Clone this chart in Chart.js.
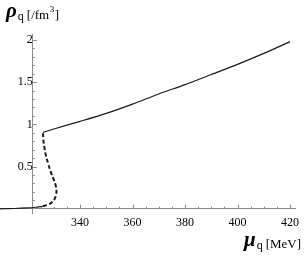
<!DOCTYPE html>
<html>
<head>
<meta charset="utf-8">
<script src="https://cdn.jsdelivr.net/npm/chart.js@4"></script>
<style>
  html, body { margin: 0; padding: 0; background: #fff; }
  #wrap { width: 307px; height: 256px; }
</style>
</head>
<body>
<div id="wrap"><canvas id="densityChart"></canvas></div>
<script>
// quark number density vs quark chemical potential

// stable high density branch
const muUpper = [325.9, 330, 340, 350, 360, 370, 380, 390, 400, 410, 420];
const rhoUpper = [0.905, 0.945, 1.035, 1.13, 1.24, 1.36, 1.47, 1.59, 1.71, 1.84, 1.98];

// stable low density branch
const muLower = [309.5, 315, 320, 323, 325.9];
const rhoLower = [0.0, 0.003, 0.01, 0.018, 0.03];

// metastable / unstable branch (dashed)
const muUnstable = [325.9, 327.5, 329, 330.2, 330.9, 331, 330.6, 329.8, 328.8, 327.8, 327, 326.4, 326, 325.9];
const rhoUnstable = [0.03, 0.045, 0.07, 0.11, 0.17, 0.22, 0.29, 0.36, 0.44, 0.54, 0.63, 0.73, 0.82, 0.905];

const xTickLabels = [340, 360, 380, 400, 420];
const yTickLabels = [0.5, 1, 1.5, 2];

const toPoints = (xs, ys) => xs.map((x, i) => ({x: x, y: ys[i]}));

const serif = '"Liberation Serif", "DejaVu Serif", serif';
const axisColor = '#8a8a8a';
const lineColor = '#1a1a1a';

// draws a run of text pieces one after the other
const drawRun = (ctx, x, parts) => {
    let cx = x;
    parts.forEach(p => {
        ctx.font = p.font;
        ctx.fillText(p.text, cx + (p.dx || 0), p.y);
        cx += ctx.measureText(p.text).width + (p.dx || 0) + (p.gap || 0);
    });
    return cx;
};

// Mathematica style inner ticks plus the axis labels
const axisDecor = {
    id: 'axisDecor',
    afterDraw(chart) {
        const ctx = chart.ctx;
        const xs = chart.scales.x;
        const ys = chart.scales.y;
        const x0 = xs.getPixelForValue(322);
        const y0 = ys.getPixelForValue(0);
        ctx.save();
        ctx.strokeStyle = axisColor;
        ctx.lineWidth = 1;
        ctx.beginPath();
        // y ticks, every 0.1
        for (let i = 1; i <= 20; i++) {
            const v = i / 10;
            const py = Math.round(ys.getPixelForValue(v)) + 0.5;
            const len = (i % 5 === 0) ? 4 : 2;
            ctx.moveTo(x0, py);
            ctx.lineTo(x0 + len, py);
        }
        // x ticks, every 5
        for (let v = 325; v <= 420; v += 5) {
            const px = Math.round(xs.getPixelForValue(v)) + 0.5;
            const len = (v % 20 === 0) ? 4 : 2;
            ctx.moveTo(px, y0);
            ctx.lineTo(px, y0 - len);
        }
        ctx.stroke();

        ctx.fillStyle = '#000';
        ctx.textBaseline = 'alphabetic';
        ctx.textAlign = 'left';
        // y title
        drawRun(ctx, 6, [
            {text: 'ρ', font: 'bold italic 21px ' + serif, y: 17, gap: 1},
            {text: 'q', font: '12px ' + serif, y: 20, gap: 3},
            {text: '[/fm', font: '13px ' + serif, y: 19},
            {text: '3', font: '9px ' + serif, y: 12, dx: 0.5, gap: 0.5},
            {text: ']', font: '13px ' + serif, y: 19}
        ]);
        // x title
        drawRun(ctx, 244, [
            {text: 'μ', font: 'bold italic 21px ' + serif, y: 246, gap: 1},
            {text: 'q', font: '12px ' + serif, y: 249, gap: 3},
            {text: '[MeV]', font: '13px ' + serif, y: 248}
        ]);
        ctx.restore();
    }
};

const densityCanvas = document.getElementById('densityChart');

const densityChart = new Chart(densityCanvas, {
    type: 'scatter',
    data: {
        datasets: [
            {
                label: 'upper',
                data: toPoints(muUpper, rhoUpper),
                showLine: true,
                borderColor: lineColor,
                borderWidth: 1.2,
                pointRadius: 0,
                tension: 0.3,
                fill: false
            },
            {
                label: 'lower',
                data: toPoints(muLower, rhoLower),
                showLine: true,
                borderColor: lineColor,
                borderWidth: 1.2,
                pointRadius: 0,
                tension: 0.3,
                fill: false
            },
            {
                label: 'unstable',
                data: toPoints(muUnstable, rhoUnstable),
                showLine: true,
                borderColor: lineColor,
                borderWidth: 2,
                borderDash: [4, 2.5],
                pointRadius: 0,
                tension: 0.4,
                fill: false
            }
        ]
    },
    options: {
        responsive: true,
        maintainAspectRatio: false,
        animation: false,
        clip: false,
        layout: {
            padding: {left: 0, right: 12, top: 34, bottom: 43}
        },
        plugins: {
            legend: {display: false},
            tooltip: {enabled: false}
        },
        scales: {
            x: {
                type: 'linear',
                min: 309.5,
                max: 421.9,
                position: {y: 0},
                afterBuildTicks: (axis) => {
                    axis.ticks = xTickLabels.map(v => ({value: v}));
                },
                grid: {display: false, drawTicks: false},
                border: {display: true, color: axisColor, width: 1},
                ticks: {
                    padding: 7,
                    color: '#000',
                    font: {family: serif, size: 12},
                    autoSkip: false,
                    maxRotation: 0,
                    callback: (v) => String(v)
                }
            },
            y: {
                type: 'linear',
                min: -0.05,
                max: 2.07,
                position: {x: 322},
                afterBuildTicks: (axis) => {
                    axis.ticks = yTickLabels.map(v => ({value: v}));
                },
                grid: {display: false, drawTicks: false},
                border: {display: true, color: axisColor, width: 1},
                ticks: {
                    padding: 8,
                    color: '#000',
                    font: {family: serif, size: 12},
                    autoSkip: false,
                    callback: (v) => String(v)
                }
            }
        }
    },
    plugins: [axisDecor]
});
</script>
</body>
</html>
